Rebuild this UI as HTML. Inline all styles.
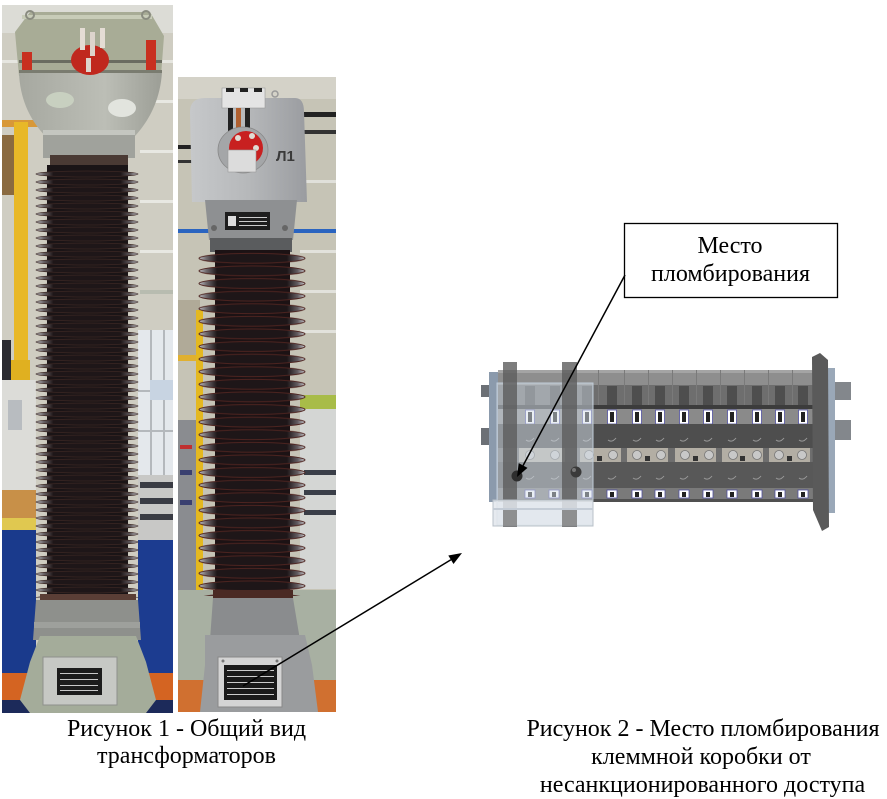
<!DOCTYPE html>
<html><head><meta charset="utf-8"><style>
html,body{margin:0;padding:0;background:#fff;}
svg{display:block;}
</style></head><body>
<svg width="887" height="799" viewBox="0 0 887 799" xmlns="http://www.w3.org/2000/svg">
<defs>
<clipPath id="c1"><rect x="2" y="5" width="171" height="708"/></clipPath>
<clipPath id="c2"><rect x="178" y="77" width="158" height="635"/></clipPath>
<linearGradient id="shedg" x1="0" x2="1" y1="0" y2="0">
 <stop offset="0" stop-color="#c0c0c6"/>
 <stop offset="0.07" stop-color="#6e686c"/>
 <stop offset="0.17" stop-color="#1e1618"/>
 <stop offset="0.83" stop-color="#1e1618"/>
 <stop offset="0.93" stop-color="#625c60"/>
 <stop offset="1" stop-color="#c8c8ce"/>
</linearGradient>
<linearGradient id="head2" x1="0" x2="1" y1="0" y2="0">
 <stop offset="0" stop-color="#c6c8ca"/>
 <stop offset="0.5" stop-color="#b6b8ba"/>
 <stop offset="1" stop-color="#9a9ca0"/>
</linearGradient>
<linearGradient id="head1" x1="0" x2="1" y1="0" y2="0">
 <stop offset="0" stop-color="#a6a8a0"/>
 <stop offset="0.6" stop-color="#bcbeb6"/>
 <stop offset="1" stop-color="#9c9e96"/>
</linearGradient>
<pattern id="sh1" patternUnits="userSpaceOnUse" x="0" y="170" width="887" height="8">
 <ellipse cx="87" cy="4" rx="51" ry="3" fill="url(#shedg)" stroke="#3a2622" stroke-width="0.8"/>
</pattern>
<pattern id="sh2" patternUnits="userSpaceOnUse" x="0" y="252" width="887" height="12.6">
 <ellipse cx="252" cy="6.3" rx="53" ry="5" fill="url(#shedg)" stroke="#4e2420" stroke-width="1"/>
</pattern>
</defs>

<!-- ================= PHOTO 1 ================= -->
<g clip-path="url(#c1)">
 <rect x="2" y="5" width="171" height="708" fill="#cfcdc2"/>
 <rect x="2" y="5" width="171" height="28" fill="#dcdcd6"/>
 <rect x="2" y="60" width="171" height="3" fill="#e6e6e0"/>
 <rect x="140" y="100" width="33" height="3" fill="#e8e8e2"/>
 <rect x="140" y="150" width="33" height="3" fill="#e8e8e2"/>
 <rect x="140" y="200" width="33" height="3" fill="#e8e8e2"/>
 <rect x="140" y="250" width="33" height="3" fill="#e8e8e2"/>
 <rect x="140" y="290" width="33" height="4" fill="#b8bcb0"/>
 <rect x="138" y="330" width="35" height="145" fill="#e4e8ec"/>
 <rect x="150" y="330" width="2" height="145" fill="#b4b8bc"/>
 <rect x="163" y="330" width="2" height="145" fill="#b4b8bc"/>
 <rect x="138" y="390" width="35" height="2" fill="#b4b8bc"/>
 <rect x="138" y="430" width="35" height="2" fill="#b4b8bc"/>
 <rect x="150" y="380" width="23" height="20" fill="#c8d4e2"/>
 <rect x="138" y="475" width="35" height="65" fill="#c8c8c6"/>
 <rect x="140" y="482" width="33" height="6" fill="#3a3c44"/>
 <rect x="140" y="498" width="33" height="6" fill="#3a3c44"/>
 <rect x="140" y="514" width="33" height="6" fill="#3a3c44"/>
 <rect x="138" y="540" width="35" height="135" fill="#1c3c90"/>
 <rect x="2" y="120" width="50" height="7" fill="#d89838"/>
 <rect x="2" y="135" width="12" height="60" fill="#8a6a40"/>
 <rect x="14" y="122" width="14" height="262" fill="#e8b828"/>
 <rect x="10" y="360" width="20" height="20" fill="#e0b020"/>
 <rect x="2" y="340" width="9" height="40" fill="#2a2a30"/>
 <rect x="2" y="380" width="34" height="110" fill="#dcdcd8"/>
 <rect x="8" y="400" width="14" height="30" fill="#b8bcc0"/>
 <rect x="2" y="490" width="34" height="30" fill="#c89048"/>
 <rect x="2" y="518" width="34" height="12" fill="#e0c850"/>
 <rect x="2" y="530" width="34" height="145" fill="#1a3a8c"/>
 <rect x="2" y="673" width="171" height="40" fill="#d46422"/>
 <rect x="2" y="700" width="171" height="13" fill="#1c2a5a"/>
 <polygon points="15,32 30,12 150,12 164,36 161,76 19,76" fill="#a8ac96"/>
 <rect x="22" y="15" width="130" height="4" fill="#c8ccb8"/>
 <path d="M19,72 C20,108 38,128 45,136 L135,136 C146,124 160,104 162,72 Z" fill="url(#head1)"/>
 <ellipse cx="122" cy="108" rx="14" ry="9" fill="#e2e4de"/>
 <ellipse cx="60" cy="100" rx="14" ry="8" fill="#c8d0c0"/>
 <rect x="19" y="60" width="143" height="3" fill="#6a6c60"/>
 <rect x="19" y="70" width="143" height="3" fill="#7a7c70"/>
 <ellipse cx="90" cy="60" rx="19" ry="15" fill="#c0281e"/>
 <rect x="80" y="28" width="5" height="22" fill="#e4dcd4"/>
 <rect x="90" y="32" width="5" height="24" fill="#ddd4cc"/>
 <rect x="100" y="28" width="5" height="20" fill="#e4dcd4"/>
 <rect x="86" y="58" width="5" height="14" fill="#ddd4cc"/>
 <rect x="22" y="52" width="10" height="18" fill="#c83020"/>
 <rect x="146" y="40" width="10" height="30" fill="#c83020"/>
 <circle cx="30" cy="15" r="4" fill="none" stroke="#8a8c80" stroke-width="2"/>
 <circle cx="146" cy="15" r="4" fill="none" stroke="#8a8c80" stroke-width="2"/>
 <rect x="43" y="130" width="92" height="28" fill="#a0a29c"/>
 <rect x="43" y="130" width="92" height="5" fill="#c4c6c0"/>
 <rect x="50" y="155" width="78" height="15" fill="#4a3a34"/>
 <rect x="47" y="165" width="81" height="435" fill="#1a1416"/>
 <rect x="34" y="170" width="108" height="428" fill="url(#sh1)"/>
 <rect x="40" y="594" width="96" height="8" fill="#5a3e36"/>
 <path d="M36,600 L138,600 L141,640 L33,640 Z" fill="#8e908c"/>
 <rect x="34" y="622" width="106" height="6" fill="#9ea09c"/>
 <polygon points="40,636 136,636 146,662 156,700 146,713 30,713 20,700 30,662" fill="#a4ac9a"/>
 <rect x="43" y="657" width="74" height="48" fill="#c6c8c4" stroke="#8e908c" stroke-width="1"/>
 <rect x="57" y="668" width="45" height="27" fill="#1c1c1c"/>
 <rect x="60" y="673" width="38" height="1" fill="#c8c8c8"/>
 <rect x="60" y="679" width="38" height="1" fill="#c8c8c8"/>
 <rect x="60" y="685" width="38" height="1" fill="#c8c8c8"/>
 <rect x="60" y="690" width="38" height="1" fill="#c8c8c8"/>
</g>

<!-- ================= PHOTO 2 ================= -->
<g clip-path="url(#c2)">
 <rect x="178" y="77" width="158" height="635" fill="#c6c4b6"/>
 <rect x="178" y="77" width="158" height="22" fill="#d4d2c8"/>
 <rect x="300" y="112" width="36" height="5" fill="#222"/>
 <rect x="300" y="130" width="36" height="4" fill="#333"/>
 <rect x="300" y="180" width="36" height="3" fill="#e0e0da"/>
 <rect x="178" y="145" width="16" height="4" fill="#222"/>
 <rect x="178" y="160" width="16" height="3" fill="#333"/>
 <rect x="178" y="229" width="158" height="4" fill="#2a64c0"/>
 <rect x="300" y="250" width="36" height="3" fill="#e2e2dc"/>
 <rect x="300" y="290" width="36" height="3" fill="#e2e2dc"/>
 <rect x="300" y="330" width="36" height="3" fill="#e2e2dc"/>
 <rect x="178" y="300" width="22" height="60" fill="#b0aa98"/>
 <rect x="178" y="355" width="22" height="6" fill="#e0b030"/>
 <rect x="196" y="310" width="7" height="290" fill="#e4b820"/>
 <rect x="300" y="395" width="36" height="14" fill="#a8bc48"/>
 <rect x="300" y="409" width="36" height="180" fill="#d4d6d4"/>
 <rect x="304" y="470" width="32" height="5" fill="#3a3e48"/>
 <rect x="304" y="490" width="32" height="5" fill="#3a3e48"/>
 <rect x="304" y="510" width="32" height="5" fill="#3a3e48"/>
 <rect x="178" y="420" width="18" height="170" fill="#8a8c90"/>
 <rect x="180" y="445" width="12" height="4" fill="#c03030"/>
 <rect x="180" y="470" width="12" height="5" fill="#3a4070"/>
 <rect x="180" y="500" width="12" height="5" fill="#3a4070"/>
 <rect x="178" y="590" width="158" height="95" fill="#a8b0a2"/>
 <rect x="178" y="680" width="38" height="32" fill="#d07030"/>
 <rect x="300" y="680" width="36" height="32" fill="#d07030"/>
 <path d="M190,112 Q190,98 205,98 L295,98 Q304,98 304,112 L307,202 L192,202 Z" fill="url(#head2)"/>
 <rect x="222" y="88" width="43" height="20" fill="#e4e4e4" stroke="#9a9a9a" stroke-width="0.6"/>
 <rect x="226" y="88" width="8" height="4" fill="#222"/>
 <rect x="240" y="88" width="8" height="4" fill="#222"/>
 <rect x="254" y="88" width="8" height="4" fill="#222"/>
 <circle cx="275" cy="94" r="3" fill="none" stroke="#999" stroke-width="1.5"/>
 <rect x="228" y="108" width="5" height="28" fill="#222"/>
 <rect x="236" y="108" width="5" height="22" fill="#b06030"/>
 <rect x="245" y="108" width="5" height="20" fill="#222"/>
 <ellipse cx="243" cy="150" rx="25" ry="23" fill="#a4a6a8" stroke="#888" stroke-width="0.8"/>
 <circle cx="246" cy="148" r="17" fill="#c82020"/>
 <circle cx="238" cy="138" r="3" fill="#e0dcd4"/>
 <circle cx="252" cy="136" r="3" fill="#e0dcd4"/>
 <circle cx="256" cy="148" r="3" fill="#e0dcd4"/>
 <rect x="228" y="150" width="28" height="22" fill="#dcdcdc" stroke="#999" stroke-width="0.6"/>
 <text x="276" y="161" font-family="Liberation Sans, sans-serif" font-size="15" font-weight="bold" fill="#3a3a3a">Л1</text>
 <path d="M205,200 L297,200 L293,240 L209,240 Z" fill="#8e9092"/>
 <rect x="225" y="212" width="45" height="18" fill="#1e1e1e"/>
 <rect x="228" y="216" width="8" height="10" fill="#ddd"/>
 <rect x="239" y="217" width="28" height="1" fill="#ccc"/>
 <rect x="239" y="221" width="28" height="1" fill="#ccc"/>
 <rect x="239" y="225" width="28" height="1" fill="#ccc"/>
 <circle cx="214" cy="228" r="3" fill="#666"/>
 <circle cx="285" cy="228" r="3" fill="#666"/>
 <rect x="210" y="238" width="82" height="14" fill="#5a5c5e"/>
 <rect x="215" y="250" width="75" height="350" fill="#1c1214"/>
 <rect x="198" y="252" width="110" height="344" fill="url(#sh2)"/>
 <rect x="213" y="590" width="80" height="10" fill="#4a2a24"/>
 <path d="M213,598 L293,598 L300,640 L210,640 Z" fill="#8a8c8e"/>
 <polygon points="205,635 305,635 312,665 318,712 200,712 205,665" fill="#9a9c9e"/>
 <rect x="218" y="657" width="64" height="50" fill="#d4d4d4" stroke="#888" stroke-width="1"/>
 <rect x="224" y="665" width="53" height="35" fill="#1a1a1a"/>
 <rect x="227" y="670" width="47" height="1" fill="#ccc"/>
 <rect x="227" y="676" width="47" height="1" fill="#ccc"/>
 <rect x="227" y="682" width="47" height="1" fill="#ccc"/>
 <rect x="227" y="688" width="47" height="1" fill="#ccc"/>
 <rect x="227" y="694" width="47" height="1" fill="#ccc"/>
 <circle cx="223" cy="661" r="1.5" fill="#777"/>
 <circle cx="277" cy="661" r="1.5" fill="#777"/>
</g>

<!-- ================= TERMINAL BLOCK ================= -->
<g>
 <rect x="481" y="385" width="12" height="12" fill="#6c7076"/>
 <rect x="481" y="428" width="12" height="17" fill="#6c7076"/>
 <rect x="489" y="372" width="11" height="130" fill="#8b9aac"/>
 <rect x="830" y="382" width="21" height="18" fill="#83878c"/>
 <rect x="830" y="420" width="21" height="20" fill="#83878c"/>
 <rect x="826" y="368" width="9" height="145" fill="#9aa8b8"/>
 <rect x="498" y="370" width="318" height="132" fill="#6e6e6e"/>
 <rect x="498" y="370" width="318" height="15" fill="#8e8e8e"/>
 <rect x="498" y="370" width="318" height="3" fill="#a4a4a4"/>
 <g fill="#4e4e4e">
  <rect x="525" y="386" width="10" height="19"/><rect x="550" y="386" width="10" height="19"/>
  <rect x="582" y="386" width="10" height="19"/><rect x="607" y="386" width="10" height="19"/>
  <rect x="632" y="386" width="10" height="19"/><rect x="655" y="386" width="10" height="19"/>
  <rect x="679" y="386" width="10" height="19"/><rect x="703" y="386" width="10" height="19"/>
  <rect x="727" y="386" width="10" height="19"/><rect x="752" y="386" width="10" height="19"/>
  <rect x="775" y="386" width="10" height="19"/><rect x="798" y="386" width="10" height="19"/>
 </g>
 <g fill="#7a7a7a">
  <rect x="598" y="370" width="1" height="38"/><rect x="624" y="370" width="1" height="38"/>
  <rect x="648" y="370" width="1" height="38"/><rect x="672" y="370" width="1" height="38"/>
  <rect x="696" y="370" width="1" height="38"/><rect x="720" y="370" width="1" height="38"/>
  <rect x="744" y="370" width="1" height="38"/><rect x="768" y="370" width="1" height="38"/>
  <rect x="792" y="370" width="1" height="38"/>
 </g>
 <rect x="498" y="405" width="318" height="4" fill="#3c3c3c"/>
 <rect x="498" y="409" width="318" height="15" fill="#8a8a8a"/>
 <g fill="#fff" stroke="#5050a0" stroke-width="0.8">
  <rect x="525.5" y="410" width="9" height="14"/><rect x="550.5" y="410" width="9" height="14"/>
  <rect x="582.5" y="410" width="9" height="14"/><rect x="607.5" y="410" width="9" height="14"/>
  <rect x="632.5" y="410" width="9" height="14"/><rect x="655.5" y="410" width="9" height="14"/>
  <rect x="679.5" y="410" width="9" height="14"/><rect x="703.5" y="410" width="9" height="14"/>
  <rect x="727.5" y="410" width="9" height="14"/><rect x="752.5" y="410" width="9" height="14"/>
  <rect x="775.5" y="410" width="9" height="14"/><rect x="798.5" y="410" width="9" height="14"/>
 </g>
 <g fill="#222">
  <rect x="528" y="412" width="4" height="10"/><rect x="553" y="412" width="4" height="10"/>
  <rect x="585" y="412" width="4" height="10"/><rect x="610" y="412" width="4" height="10"/>
  <rect x="635" y="412" width="4" height="10"/><rect x="658" y="412" width="4" height="10"/>
  <rect x="682" y="412" width="4" height="10"/><rect x="706" y="412" width="4" height="10"/>
  <rect x="730" y="412" width="4" height="10"/><rect x="755" y="412" width="4" height="10"/>
  <rect x="778" y="412" width="4" height="10"/><rect x="801" y="412" width="4" height="10"/>
 </g>
 <rect x="498" y="424" width="318" height="24" fill="#4e4e4e"/>
 <g fill="none" stroke="#9a9a9a" stroke-width="1">
  <path d="M526,440 q4,3 8,-2"/><path d="M551,440 q4,3 8,-2"/><path d="M583,440 q4,3 8,-2"/>
  <path d="M608,440 q4,3 8,-2"/><path d="M633,440 q4,3 8,-2"/><path d="M656,440 q4,3 8,-2"/>
  <path d="M680,440 q4,3 8,-2"/><path d="M704,440 q4,3 8,-2"/><path d="M728,440 q4,3 8,-2"/>
  <path d="M753,440 q4,3 8,-2"/><path d="M776,440 q4,3 8,-2"/><path d="M799,440 q4,3 8,-2"/>
 </g>
 <g fill="#b3aea4">
  <rect x="519" y="448" width="46" height="14"/>
  <rect x="580" y="448" width="41" height="14"/><rect x="627" y="448" width="41" height="14"/>
  <rect x="675" y="448" width="41" height="14"/><rect x="722" y="448" width="41" height="14"/>
  <rect x="769" y="448" width="41" height="14"/>
 </g>
 <g fill="#333">
  <rect x="597" y="456" width="5" height="5"/><rect x="645" y="456" width="5" height="5"/>
  <rect x="693" y="456" width="5" height="5"/><rect x="740" y="456" width="5" height="5"/>
  <rect x="787" y="456" width="5" height="5"/>
 </g>
 <g fill="#c8c8c8" stroke="#777" stroke-width="0.8">
  <circle cx="530" cy="455" r="4.5"/><circle cx="555" cy="455" r="4.5"/>
  <circle cx="589" cy="455" r="4.5"/><circle cx="613" cy="455" r="4.5"/>
  <circle cx="637" cy="455" r="4.5"/><circle cx="661" cy="455" r="4.5"/>
  <circle cx="685" cy="455" r="4.5"/><circle cx="709" cy="455" r="4.5"/>
  <circle cx="733" cy="455" r="4.5"/><circle cx="757" cy="455" r="4.5"/>
  <circle cx="779" cy="455" r="4.5"/><circle cx="802" cy="455" r="4.5"/>
 </g>
 <rect x="498" y="462" width="318" height="26" fill="#585858"/>
 <g fill="none" stroke="#9a9a9a" stroke-width="1">
  <path d="M526,478 q4,3 8,-2"/><path d="M551,478 q4,3 8,-2"/><path d="M583,478 q4,3 8,-2"/>
  <path d="M608,478 q4,3 8,-2"/><path d="M633,478 q4,3 8,-2"/><path d="M656,478 q4,3 8,-2"/>
  <path d="M680,478 q4,3 8,-2"/><path d="M704,478 q4,3 8,-2"/><path d="M728,478 q4,3 8,-2"/>
  <path d="M753,478 q4,3 8,-2"/><path d="M776,478 q4,3 8,-2"/><path d="M799,478 q4,3 8,-2"/>
 </g>
 <rect x="498" y="488" width="318" height="11" fill="#7a7a7a"/>
 <g fill="#fff" stroke="#5050a0" stroke-width="0.8">
  <rect x="525" y="490" width="10" height="8"/><rect x="549" y="490" width="10" height="8"/>
  <rect x="582" y="490" width="10" height="8"/><rect x="607" y="490" width="10" height="8"/>
  <rect x="632" y="490" width="10" height="8"/><rect x="655" y="490" width="10" height="8"/>
  <rect x="679" y="490" width="10" height="8"/><rect x="703" y="490" width="10" height="8"/>
  <rect x="727" y="490" width="10" height="8"/><rect x="752" y="490" width="10" height="8"/>
  <rect x="775" y="490" width="10" height="8"/><rect x="798" y="490" width="10" height="8"/>
 </g>
 <g fill="#222">
  <rect x="528" y="492" width="4" height="5"/><rect x="552" y="492" width="4" height="5"/>
  <rect x="585" y="492" width="4" height="5"/><rect x="610" y="492" width="4" height="5"/>
  <rect x="635" y="492" width="4" height="5"/><rect x="658" y="492" width="4" height="5"/>
  <rect x="682" y="492" width="4" height="5"/><rect x="706" y="492" width="4" height="5"/>
  <rect x="730" y="492" width="4" height="5"/><rect x="755" y="492" width="4" height="5"/>
  <rect x="778" y="492" width="4" height="5"/><rect x="801" y="492" width="4" height="5"/>
 </g>
 <rect x="498" y="499" width="318" height="3" fill="#505050"/>
 <polygon points="812,357 820,353 828,360 829,527 822,531 813,510" fill="#5a5a5a"/>
 <rect x="497" y="383" width="96" height="142" fill="#d6e0ea" fill-opacity="0.5" stroke="#c0ccd8" stroke-width="1"/>
 <rect x="503" y="362" width="14" height="165" fill="#5c5c5c" fill-opacity="0.8"/>
 <rect x="562" y="362" width="15" height="165" fill="#5c5c5c" fill-opacity="0.8"/>
 <rect x="493" y="500" width="100" height="26" fill="#e2e6ec" fill-opacity="0.85" stroke="#b8c0c8" stroke-width="1"/>
 <rect x="493" y="508" width="100" height="2" fill="#c4ccd6"/>
 <rect x="503" y="510" width="14" height="17" fill="#707070" fill-opacity="0.7"/>
 <rect x="562" y="510" width="15" height="17" fill="#707070" fill-opacity="0.7"/>
 <circle cx="517" cy="476" r="5.5" fill="#2e2e2e"/>
 <circle cx="576" cy="472" r="5.5" fill="#3a3a3a"/>
 <circle cx="574" cy="470" r="2" fill="#777"/>
</g>

<!-- ================= CALLOUT BOX ================= -->
<rect x="624.5" y="223.5" width="213" height="74" fill="#fff" stroke="#000" stroke-width="1.3"/>
<g font-family="Liberation Serif, 'DejaVu Serif', serif" font-size="24" fill="#000" text-anchor="middle">
 <text x="730" y="253">Место</text>
 <text x="730.5" y="281">пломбирования</text>
</g>

<!-- ================= ARROWS ================= -->
<line x1="625" y1="275" x2="523.1" y2="465.5" stroke="#000" stroke-width="1.5"/>
<polygon points="517,477 527.5,467.9 518.7,463.1" fill="#000"/>
<line x1="243" y1="686" x2="450.9" y2="559.75" stroke="#000" stroke-width="1.5"/>
<polygon points="462,553 453.5,564.0 448.3,555.5" fill="#000"/>

<!-- ================= CAPTIONS ================= -->
<g font-family="Liberation Serif, 'DejaVu Serif', serif" font-size="24" fill="#000" text-anchor="middle">
 <text x="186.5" y="736">Рисунок 1 - Общий вид</text>
 <text x="186.5" y="763">трансформаторов</text>
 <text x="703" y="736">Рисунок 2 - Место пломбирования</text>
 <text x="701" y="764">клеммной коробки от</text>
 <text x="702.5" y="792">несанкционированного доступа</text>
</g>
</svg>
</body></html>
